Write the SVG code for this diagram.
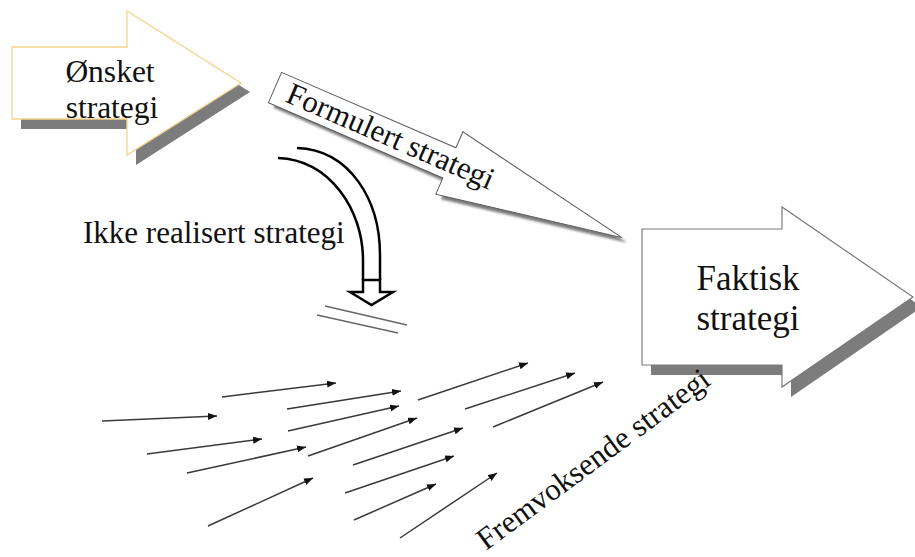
<svg xmlns="http://www.w3.org/2000/svg" width="915" height="557" viewBox="0 0 915 557">
  <style>
    text { font-family: 'Liberation Serif', 'DejaVu Serif', serif; fill: #111; }
    .shadow { fill: #7c7c7c; }
    .box { fill: #ffffff; }
    .flow { stroke: #3a3a3a; stroke-width: 1.5; fill: none; marker-end: url(#tip); }
  </style>
  <defs>
    <marker id="tip" markerUnits="userSpaceOnUse" markerWidth="10" markerHeight="8" refX="9" refY="3.5" orient="auto">
      <path d="M0,0 L9,3.5 L0,7 z" fill="#111"/>
    </marker>
    <filter id="soft" x="-10%" y="-10%" width="120%" height="120%">
      <feGaussianBlur stdDeviation="0.8"/>
    </filter>
  </defs>

  <rect width="915" height="557" fill="#ffffff"/>

  <!-- Ønsket strategi -->
  <g id="onsket">
    <polygon class="shadow" points="21,56 136,56 136,20 250,92 136,165 136,129 21,129"/>
    <polygon class="box" stroke="#f5d48c" stroke-width="1.3" points="12,47 127,47 127,11 241,83 127,155 127,119 12,119"/>
    <text font-size="31.5" text-anchor="middle" x="110" y="82">Ønsket</text>
    <text font-size="31.5" text-anchor="middle" x="112" y="118">strategi</text>
  </g>

  <!-- Formulert strategi -->
  <g id="formulert">
    <polygon class="shadow" filter="url(#soft)" transform="translate(280,92.5) rotate(23.4)" points="0,-16.5 190,-16.5 190,-34 378,0 190,34 190,16.5 0,16.5"/>
    <g transform="translate(275,87.5) rotate(23.4)">
      <polygon class="box" stroke="#5a5a5a" stroke-width="1" points="0,-16.5 190,-16.5 190,-34 378,0 190,34 190,16.5 0,16.5"/>
      <text font-size="31" x="14" y="9">Formulert strategi</text>
    </g>
  </g>

  <!-- Faktisk strategi -->
  <g id="faktisk">
    <polygon class="shadow" points="651,239 791,239 791,217 922,307 791,397 791,375 651,375"/>
    <polygon class="box" stroke="#7a7a7a" stroke-width="1.2" points="642,229 782,229 782,207 913,297 782,387 782,365 642,365"/>
    <text font-size="35" text-anchor="middle" x="748" y="290">Faktisk</text>
    <text font-size="35" text-anchor="middle" x="748" y="330">strategi</text>
  </g>

  <!-- Ikke realisert strategi: curved block arrow -->
  <g id="ikke-realisert">
    <path d="M297,148 C350,150 380,200 380,255 L380,280" fill="none" stroke="#000" stroke-width="2.5"/>
    <path d="M278,158 C330,160 363,210 363,260 L363,280" fill="none" stroke="#000" stroke-width="2.5"/>
    <polygon points="363,280 380,280 380,292 393,292 371.5,305 350,292 363,292" fill="#fff" stroke="#000" stroke-width="2.5" stroke-linejoin="miter"/>
    <text font-size="31" x="83" y="243">Ikke realisert strategi</text>
  </g>

  <!-- blocked marks under the curved arrow -->
  <g id="blocked" stroke="#666" stroke-width="1.3">
    <line x1="325" y1="306" x2="407" y2="325"/>
    <line x1="317" y1="315" x2="398" y2="333"/>
  </g>

  <!-- Fremvoksende strategi: scattered flows -->
  <g id="connectors">
    <line class="flow" x1="102" y1="421" x2="217" y2="416"/>
    <line class="flow" x1="147" y1="454" x2="262" y2="439"/>
    <line class="flow" x1="187" y1="473" x2="306" y2="447"/>
    <line class="flow" x1="208" y1="526" x2="313" y2="478"/>
    <line class="flow" x1="222" y1="397" x2="336" y2="383"/>
    <line class="flow" x1="287" y1="409" x2="401" y2="391"/>
    <line class="flow" x1="288" y1="431" x2="399" y2="406"/>
    <line class="flow" x1="308" y1="456" x2="417" y2="418"/>
    <line class="flow" x1="353" y1="465" x2="463" y2="428"/>
    <line class="flow" x1="345" y1="493" x2="454" y2="456"/>
    <line class="flow" x1="354" y1="520" x2="436" y2="484"/>
    <line class="flow" x1="400" y1="538" x2="497" y2="473"/>
    <line class="flow" x1="418" y1="400" x2="528" y2="363"/>
    <line class="flow" x1="465" y1="409" x2="575" y2="373"/>
    <line class="flow" x1="493" y1="427" x2="603" y2="382"/>
  </g>

  <g id="fremvoksende">
    <text font-size="31" transform="translate(486,551) rotate(-36.5)">Fremvoksende strategi</text>
  </g>
</svg>
